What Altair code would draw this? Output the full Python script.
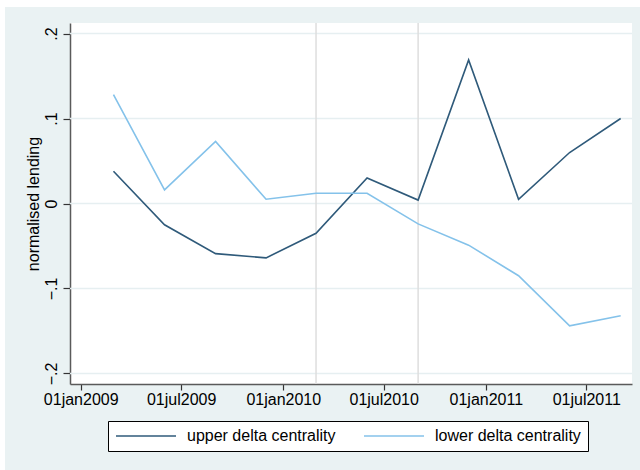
import altair as alt
import pandas as pd

# Quarterly observations (first day of Mar/Jun/Sep/Dec)
dates = ["2009-03-01", "2009-06-01", "2009-09-01", "2009-12-01", "2010-03-01",
         "2010-06-01", "2010-09-01", "2010-12-01", "2011-03-01", "2011-06-01",
         "2011-09-01"]
upper = [0.038, -0.025, -0.059, -0.064, -0.035, 0.030, 0.004, 0.169, 0.005, 0.060, 0.100]
lower = [0.128, 0.016, 0.073, 0.005, 0.012, 0.012, -0.024, -0.049, -0.085, -0.144, -0.132]
series_names = ["upper delta centrality", "lower delta centrality"]
series_colors = ["#2f5a7a", "#84c2ea"]

y_ticks = [-0.2, -0.1, 0.0, 0.1, 0.2]
marker_dates = ["2010-03-01", "2010-09-01"]
x_tick_dates = [(2009, 1), (2009, 7), (2010, 1), (2010, 7), (2011, 1), (2011, 7)]

FONT = "Liberation Sans"

rows = []
for name, vals in zip(series_names, [upper, lower]):
    for d, v in zip(dates, vals):
        rows.append({"date": d, "value": v, "series": name})
df = pd.DataFrame(rows)

x_scale = alt.Scale(
    type="utc",
    domain=[alt.DateTime(year=2008, month=12, date=12, hours=16, utc=True),
            alt.DateTime(year=2011, month=9, date=21, hours=10, utc=True)],
)
y_scale = alt.Scale(domain=[-0.2124, 0.2124], nice=False, zero=False)

x_axis = alt.Axis(
    values=[alt.DateTime(year=y, month=m, date=1, utc=True) for y, m in x_tick_dates],
    labelExpr="lower(utcFormat(datum.value, '%d%b%Y'))",
    title=None, grid=False,
    domainColor="#5a5a5a", domainWidth=1.5,
    tickColor="#333333", tickSize=6, tickWidth=1.2,
    labelFontSize=16, labelFont=FONT, labelColor="black", labelPadding=1,
    labelOverlap=False,
)
y_axis = alt.Axis(
    values=y_ticks,
    labelExpr="datum.value == 0 ? '0' : replace(format(datum.value, '.1f'), '0.', '.')",
    title="normalised lending", titleFont=FONT, titleFontSize=16,
    titleFontWeight="normal", titleColor="black",
    titleAngle=270, titleX=-37, titleY=180.5, titleAlign="center", titleBaseline="middle",
    grid=False,
    domainColor="#5a5a5a", domainWidth=1.5,
    tickColor="#333333", tickSize=7, tickWidth=1.2,
    labelFontSize=16, labelFont=FONT, labelColor="black",
    labelAngle=270, labelAlign="center", labelBaseline="alphabetic", labelPadding=7,
)

# white page margin strips around the tinted graph region
one_row = alt.Data(values=[{}])
strip_left = alt.Chart(one_row).mark_rect(color="white").encode(
    x=alt.value(-70), x2=alt.value(-65), y=alt.value(-23), y2=alt.value(447))
strip_top = alt.Chart(one_row).mark_rect(color="white").encode(
    x=alt.value(-70), x2=alt.value(570), y=alt.value(-23), y2=alt.value(-16))

grid = alt.Chart(pd.DataFrame({"value": y_ticks})).mark_rule(
    color="#e6eff1", strokeWidth=1.5
).encode(y=alt.Y("value:Q", scale=y_scale, axis=y_axis))

markers = alt.Chart(pd.DataFrame({"date": marker_dates})).mark_rule(
    color="#dedede", strokeWidth=1.5
).encode(x=alt.X("date:T", scale=x_scale, axis=x_axis))

lines = alt.Chart(df).mark_line(strokeWidth=1.6).encode(
    x=alt.X("date:T", scale=x_scale, axis=x_axis),
    y=alt.Y("value:Q", scale=y_scale, axis=y_axis),
    color=alt.Color(
        "series:N",
        scale=alt.Scale(domain=series_names, range=series_colors),
        legend=alt.Legend(
            orient="none", legendX=38, legendY=398, direction="horizontal",
            title=None, symbolType="stroke", symbolSize=3600, symbolStrokeWidth=1.6,
            clipHeight=16,
            labelFontSize=16, labelFont=FONT, labelColor="black", labelLimit=400,
            labelOffset=10, columnPadding=27, padding=7,
            strokeColor="black", fillColor="white",
        ),
    ),
)

chart = alt.layer(strip_left, strip_top, grid, markers, lines).properties(
    width=562, height=361,
    autosize=alt.AutoSizeParams(type="none"),
    padding={"left": 70, "top": 23, "right": 8, "bottom": 86},
    background="#eaf2f3",
).configure(
    font=FONT,
    view=alt.ViewConfig(fill="white", strokeWidth=0),
)

chart.save("out.html", embed_options={"renderer": "svg", "actions": False})
